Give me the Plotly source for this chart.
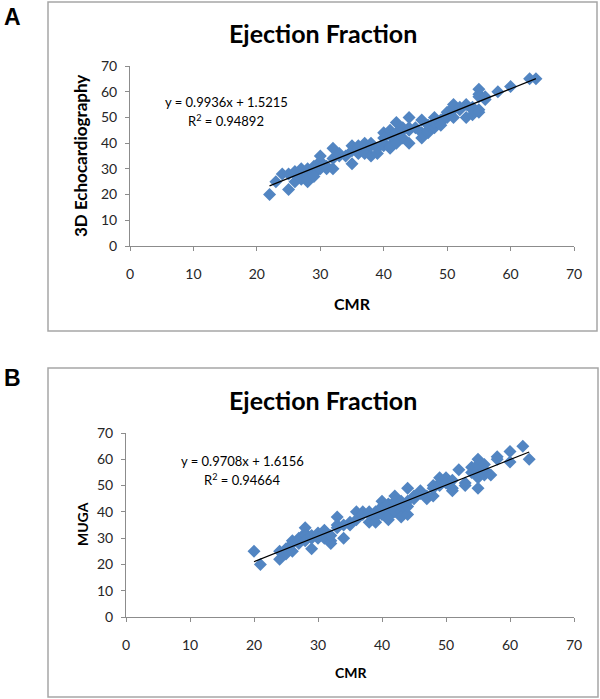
import plotly.graph_objects as go

W, H = 600, 699

# ---------------- data ----------------
a_cmr = [22, 23, 24, 25, 25, 26, 26, 26, 27, 27, 27, 28, 28, 28, 28, 29, 29, 29, 30, 30, 30,
         31, 31, 32, 32, 32, 33, 33, 34, 35, 35, 35, 36, 36, 36, 37, 37, 37, 38, 38, 38, 39, 39,
         40, 40, 40, 40, 41, 41, 41, 41, 42, 42, 42, 42, 43, 43, 43, 44, 44, 44, 44, 45, 46, 46,
         46, 47, 47, 47, 48, 48, 48, 49, 49, 49, 50, 50, 50, 51, 51, 51, 51, 52, 52, 53, 53, 54,
         54, 54, 55, 55, 55, 55, 55, 56, 56, 58, 60, 63, 64]
a_echo = [20, 25, 28, 22, 28, 25, 28, 29, 26, 29, 30, 27, 30, 25, 26, 28, 31, 27, 33, 35, 30,
          30, 31, 38, 30, 34, 35, 36, 35, 32, 39, 37, 39, 38, 36, 40, 37, 36, 40, 35, 39, 36, 38,
          44, 40, 42, 39, 43, 39, 45, 38, 48, 41, 44, 40, 46, 42, 45, 50, 40, 46, 45, 46, 49, 42,
          44, 44, 45, 47, 50, 46, 48, 48, 49, 47, 51, 50, 52, 55, 50, 53, 54, 53, 54, 55, 50, 51,
          54, 53, 61, 59, 53, 52, 58, 57, 58, 60, 62, 65, 65]
a_slope, a_intercept, a_r2 = 0.9936, 1.5215, 0.94892

b_cmr = [20, 21, 24, 24, 25, 25, 26, 26, 26, 27, 27, 27, 28, 28, 28, 28, 29, 29, 29, 30, 30, 30,
         31, 31, 31, 32, 32, 32, 33, 33, 33, 34, 34, 35, 35, 36, 36, 37, 37, 38, 38, 38, 39, 39,
         39, 40, 40, 40, 40, 41, 41, 41, 41, 42, 42, 42, 42, 43, 43, 43, 43, 44, 44, 44, 44, 45,
         45, 46, 46, 47, 47, 48, 48, 48, 49, 49, 49, 50, 50, 51, 51, 51, 52, 53, 53, 54, 54, 55,
         55, 55, 55, 55, 56, 56, 56, 57, 58, 58, 60, 60, 62, 63]
b_muga = [25, 20, 22, 25, 26, 24, 25, 28, 29, 30, 28, 29, 32, 34, 31, 29, 26, 30, 31, 32, 31, 30,
          30, 32, 33, 29, 28, 31, 38, 35, 34, 30, 35, 36, 35, 40, 37, 40, 39, 36, 39, 40, 36, 40,
          38, 44, 42, 39, 41, 41, 38, 43, 37, 42, 46, 40, 44, 40, 42, 44, 38, 49, 39, 42, 44, 46,
          45, 48, 47, 46, 45, 50, 46, 49, 53, 51, 50, 53, 51, 49, 52, 48, 56, 51, 50, 57, 55, 60,
          49, 56, 58, 53, 58, 54, 56, 54, 61, 60, 63, 59, 65, 60]
b_slope, b_intercept, b_r2 = 0.9708, 1.6156, 0.94664

ticks = [0, 10, 20, 30, 40, 50, 60, 70]

# ---------------- helpers ----------------
def px(x):
    return x / W

def py(y):
    return 1 - y / H

BLUE = "#5285C2"
AXC = "#8C8C8C"
FONT = "Lato"

fig = go.Figure()

def add_panel(xs, ys, slope, intercept, xa, ya):
    fig.add_trace(go.Scatter(x=xs, y=ys, mode="markers", xaxis=xa, yaxis=ya,
                             marker=dict(symbol="diamond", size=10, color=BLUE,
                                         line=dict(width=0)),
                             showlegend=False, hoverinfo="x+y"))
    x0, x1 = min(xs), max(xs)
    fig.add_trace(go.Scatter(x=[x0, x1], y=[slope * x0 + intercept, slope * x1 + intercept],
                             mode="lines", xaxis=xa, yaxis=ya,
                             line=dict(color="black", width=1.2),
                             showlegend=False, hoverinfo="skip"))

add_panel(a_cmr, a_echo, a_slope, a_intercept, "x", "y")
add_panel(b_cmr, b_muga, b_slope, b_intercept, "x2", "y2")

axis_common = dict(range=[0, 70], tickvals=ticks, showgrid=False, zeroline=False,
                   showline=True, linecolor=AXC, linewidth=1, ticks="outside",
                   ticklen=4, tickcolor=AXC, tickwidth=1,
                   tickfont=dict(family=FONT, size=14, color="#262626"), fixedrange=True)

fig.update_layout(
    width=W, height=H,
    margin=dict(l=0, r=0, t=0, b=0, autoexpand=False),
    paper_bgcolor="white", plot_bgcolor="white",
    xaxis=dict(domain=[px(130), px(574)], anchor="y", ticklabelstandoff=11, **axis_common),
    yaxis=dict(domain=[py(246), py(66)], anchor="x", ticklabelstandoff=5, **axis_common),
    xaxis2=dict(domain=[px(126), px(574)], anchor="y2", ticklabelstandoff=11, **axis_common),
    yaxis2=dict(domain=[py(617), py(433)], anchor="x2", ticklabelstandoff=5, **axis_common),
)

# frames around each chart
for (x0, y0, x1, y1) in [(48, 2, 597, 331), (48, 368, 598, 697)]:
    fig.add_shape(type="rect", xref="paper", yref="paper",
                  x0=px(x0), x1=px(x1), y0=py(y1), y1=py(y0),
                  line=dict(color="#A6A6A6", width=1.5), fillcolor="rgba(0,0,0,0)")

def ann(text, x, y, size, bold=False, angle=0, family=FONT, xanchor="center"):
    fig.add_annotation(text=f"<b>{text}</b>" if bold else text, xref="paper", yref="paper",
                       x=px(x), y=py(y), xanchor=xanchor, yanchor="middle", showarrow=False,
                       textangle=angle, font=dict(family=family, size=size, color="black"))

# panel letters
ann("A", 2, 17, 23, bold=True, family="Liberation Sans", xanchor="left")
ann("B", 2, 378, 23, bold=True, family="Liberation Sans", xanchor="left")

# titles
ann("Ejection Fraction", 323, 33, 25, bold=True)
ann("Ejection Fraction", 323, 400, 25, bold=True)

# axis titles
ann("3D Echocardiography", 80, 156, 17, bold=True, angle=-90)
ann("CMR", 352, 303, 16, bold=True)
ann("MUGA", 82, 524, 14, bold=True, angle=-90)
ann("CMR", 351, 672, 14, bold=True)

# regression equations
ann(f"y = {a_slope}x + {a_intercept}", 226, 102, 13)
ann(f"R<sup>2</sup> = {a_r2}", 226, 120, 13)
ann(f"y = {b_slope}x + {b_intercept}", 242, 461, 13)
ann(f"R<sup>2</sup> = {b_r2}", 242, 479, 13)

fig.write_html("out.html",
               config={"displayModeBar": False},
               post_script="document.body.style.margin='0px';document.body.style.overflow='hidden';")
